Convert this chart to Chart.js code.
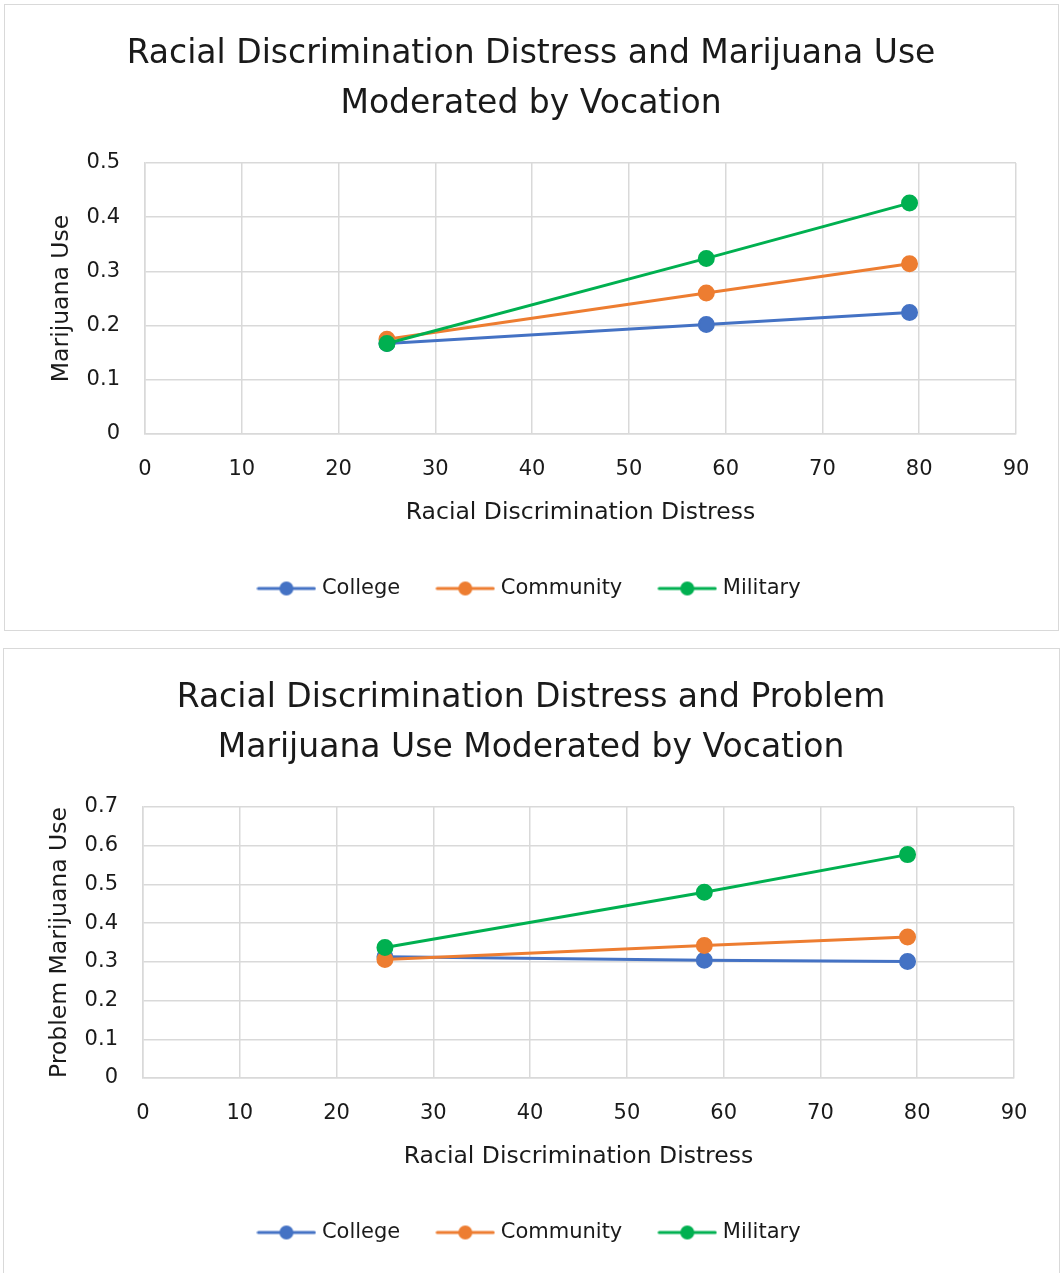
<!DOCTYPE html>
<html>
<head>
<meta charset="utf-8">
<script src="https://cdn.jsdelivr.net/npm/chart.js@4/dist/chart.umd.min.js"></script>
<style>
  html, body { margin: 0; padding: 0; background: #ffffff; }
  body { width: 1061px; height: 1273px; position: relative; overflow: hidden; }
  .frame { position: absolute; border: 1px solid #d9d9d9; box-sizing: border-box; }
  .holder { position: absolute; }
</style>
</head>
<body>
<div class="frame" style="left:4px; top:4px; width:1055px; height:627px;"></div>
<div class="frame" style="left:3px; top:648px; width:1057px; height:640px;"></div>
<div class="holder" style="left:5px; top:5px; width:1052px; height:624px;"><canvas id="useChart"></canvas></div>
<div class="holder" style="left:3px; top:649px; width:1056px; height:624px;"><canvas id="problemChart"></canvas></div>

<script>
// Racial discrimination distress levels (x) at which each vocation group was estimated
const distress = [25, 58, 79];
const seriesNames = ['College', 'Community', 'Military'];

// Marijuana use
const useCollege = [0.167, 0.202, 0.224];
const useCommunity = [0.175, 0.260, 0.314];
const useMilitary = [0.167, 0.324, 0.426];

// Problem marijuana use
const problemCollege = [0.313, 0.304, 0.301];
const problemCommunity = [0.306, 0.342, 0.364];
const problemMilitary = [0.337, 0.480, 0.577];

// Axis ticks
const xTicks = [0, 10, 20, 30, 40, 50, 60, 70, 80, 90];
const useTicks = [0, 0.1, 0.2, 0.3, 0.4, 0.5];
const problemTicks = [0, 0.1, 0.2, 0.3, 0.4, 0.5, 0.6, 0.7];

const colors = ['#4472C4', '#ED7D31', '#00B050'];
const FONT = "'DejaVu Sans', sans-serif";
const TEXT = '#1a1a1a';
const GRID = '#d9d9d9';

// Line-with-dot swatch used for legend entries
function legendMarker(color) {
  const c = document.createElement('canvas');
  c.width = 60; c.height = 18;
  const g = c.getContext('2d');
  g.strokeStyle = color; g.lineWidth = 3; g.lineCap = 'round';
  g.beginPath(); g.moveTo(2, 9); g.lineTo(58, 9); g.stroke();
  g.fillStyle = color;
  g.beginPath(); g.arc(30, 9, 7, 0, Math.PI * 2); g.fill();
  return c;
}
const markers = colors.map(legendMarker);

function makeDatasets(seriesList) {
  return seriesList.map((vals, i) => ({
    label: seriesNames[i],
    data: distress.map((x, k) => ({ x: x, y: vals[k] })),
    borderColor: colors[i],
    backgroundColor: colors[i],
    borderWidth: 3,
    pointRadius: 7.5,
    pointBorderWidth: 2,
    pointHoverRadius: 7.5,
    tension: 0,
    // later series are painted above earlier ones
    order: seriesList.length - 1 - i
  }));
}

function makeChart(id, titleLines, yTitle, yTicks, seriesList, rightGap) {
  return new Chart(document.getElementById(id), {
    type: 'line',
    data: { datasets: makeDatasets(seriesList) },
    options: {
      responsive: true,
      maintainAspectRatio: false,
      animation: false,
      events: [],
      layout: { padding: { left: 0, right: 0, top: 0, bottom: 20 } },
      plugins: {
        tooltip: { enabled: false },
        title: {
          display: true,
          text: titleLines,
          color: TEXT,
          font: { family: FONT, size: 33, weight: 'normal', lineHeight: 50 / 33 },
          padding: { top: 24, bottom: 34 }
        },
        legend: {
          display: true,
          position: 'bottom',
          labels: {
            usePointStyle: true,
            pointStyleWidth: 50,
            padding: 40,
            color: TEXT,
            font: { family: FONT, size: 21 },
            sort: (a, b) => a.datasetIndex - b.datasetIndex,
            generateLabels: (chart) => {
              const items = Chart.defaults.plugins.legend.labels.generateLabels(chart);
              items.forEach(it => { it.pointStyle = markers[it.datasetIndex]; });
              return items;
            }
          }
        }
      },
      scales: {
        x: {
          type: 'linear',
          min: xTicks[0],
          max: xTicks[xTicks.length - 1],
          afterBuildTicks: s => { s.ticks = xTicks.map(v => ({ value: v })); },
          afterFit: s => { s.height = 104; },
          grid: { color: GRID, lineWidth: 1.5, drawTicks: false },
          border: { color: GRID, width: 1.5 },
          ticks: { color: TEXT, padding: 23, maxRotation: 0, autoSkip: false,
                   font: { family: FONT, size: 21 } },
          title: { display: true, text: 'Racial Discrimination Distress', color: TEXT,
                   font: { family: FONT, size: 23.5 }, padding: { top: 0, bottom: 11 } }
        },
        y: {
          type: 'linear',
          position: 'left',
          min: yTicks[0],
          max: yTicks[yTicks.length - 1],
          afterBuildTicks: s => { s.ticks = yTicks.map(v => ({ value: v })); },
          afterFit: s => { s.width = 140; },
          grid: { color: GRID, lineWidth: 1.5, drawTicks: false },
          border: { color: GRID, width: 1.5 },
          ticks: { color: TEXT, padding: 25, font: { family: FONT, size: 21 },
                   callback: v => String(Math.round(v * 10) / 10) },
          title: { display: true, text: yTitle, color: TEXT,
                   font: { family: FONT, size: 23.5 }, padding: { top: 43, bottom: 0 } }
        },
        // blank strip to the right of the plot
        gap: {
          type: 'linear',
          position: 'right',
          display: true,
          grid: { display: false },
          border: { display: false },
          ticks: { display: false },
          afterFit: s => { s.width = rightGap; }
        }
      }
    }
  });
}

makeChart('useChart',
  ['Racial Discrimination Distress and Marijuana Use', 'Moderated by Vocation'],
  'Marijuana Use', useTicks, [useCollege, useCommunity, useMilitary], 41);

makeChart('problemChart',
  ['Racial Discrimination Distress and Problem', 'Marijuana Use Moderated by Vocation'],
  'Problem Marijuana Use', problemTicks, [problemCollege, problemCommunity, problemMilitary], 45);
</script>
</body>
</html>
